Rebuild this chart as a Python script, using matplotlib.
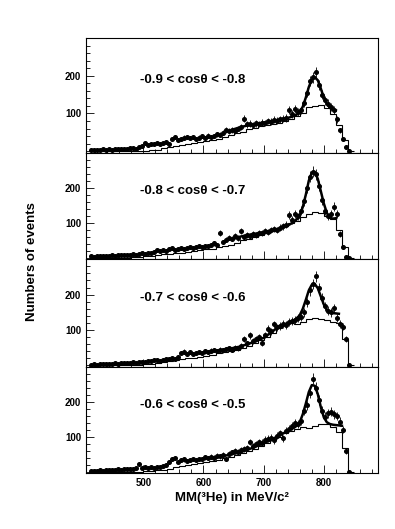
import numpy as np
import matplotlib

matplotlib.use("Agg")
import matplotlib.pyplot as plt
from matplotlib.ticker import FixedLocator, MultipleLocator

plt.rcParams["font.family"] = ["Liberation Sans", "DejaVu Sans"]

# angular bins (panel labels)
labels = ["-0.9 < cosθ < -0.8", "-0.8 < cosθ < -0.7",
          "-0.7 < cosθ < -0.6", "-0.6 < cosθ < -0.5"]

# measured counts, 5 MeV bins starting at 410 MeV
data_1 = [3, 2, 4, 3, 5, 4, 5, 4, 6, 5, 6, 7, 6, 8, 9, 7, 11, 13, 21, 16,
          20, 19, 22, 18, 21, 24, 20, 33, 38, 29, 32, 36, 38, 35, 37, 33, 36, 40, 34, 41,
          38, 40, 45, 43, 49, 56, 54, 57, 53, 60, 64, 86, 71, 73, 70, 74, 72, 76, 75, 80,
          78, 83, 81, 85, 86, 88, 110, 98, 112, 104, 108, 128, 155, 186, 196, 209, 175, 150, 135, 126,
          118, 109, 85, 55, 32, 12, 0]
data_2 = [4, 3, 5, 4, 6, 5, 5, 7, 6, 8, 7, 8, 9, 8, 10, 9, 11, 13, 12, 15,
          14, 17, 21, 19, 23, 20, 25, 27, 22, 26, 28, 25, 29, 31, 28, 32, 34, 31, 35, 33,
          37, 41, 36, 72, 45, 52, 58, 55, 62, 57, 76, 60, 66, 62, 68, 65, 72, 70, 76, 74,
          80, 82, 79, 86, 90, 95, 122, 108, 125, 118, 135, 162, 198, 232, 246, 238, 205, 165, 135, 118,
          126, 146, 124, 67, 32, 3, 0]
data_3 = [2, 3, 2, 4, 3, 5, 4, 5, 6, 5, 7, 6, 8, 7, 9, 8, 10, 9, 11, 13,
          12, 14, 15, 13, 16, 18, 17, 21, 19, 24, 36, 39, 33, 38, 32, 35, 38, 36, 40, 38,
          42, 44, 41, 45, 43, 46, 48, 45, 50, 48, 55, 75, 62, 85, 70, 74, 80, 64, 86, 103,
          96, 116, 108, 112, 118, 115, 122, 125, 128, 135, 138, 150, 178, 212, 230, 252, 218, 190, 167, 155,
          150, 162, 135, 118, 110, 75, 0]
data_4 = [3, 4, 3, 5, 4, 6, 5, 7, 6, 8, 7, 8, 9, 10, 8, 11, 23, 12, 14, 11,
          13, 12, 15, 14, 16, 20, 28, 38, 40, 30, 34, 36, 32, 35, 37, 33, 38, 36, 42, 40,
          44, 41, 47, 45, 50, 38, 52, 56, 60, 58, 63, 66, 70, 85, 74, 80, 86, 84, 92, 95,
          98, 90, 104, 110, 96, 118, 124, 130, 140, 136, 145, 175, 190, 225, 266, 240, 205, 175, 158, 168,
          172, 165, 160, 144, 121, 60, 0]
data_counts = [data_1, data_2, data_3, data_4]

# simulated background histogram, 10 MeV bins starting at 410 MeV
sim_1 = [0, 0, 0, 0, 0, 0, 0, 0, 0, 1, 2, 4, 8, 11, 14, 16, 18, 21, 24, 27,
         30, 33, 38, 42, 47, 52, 58, 62, 66, 70, 72, 76, 80, 86, 92, 102, 116, 121, 122, 115,
         98, 70, 30, 0]
sim_2 = [0, 0, 0, 0, 0, 0, 1, 2, 3, 4, 6, 8, 10, 11, 13, 15, 17, 19, 21, 24,
         26, 30, 33, 37, 42, 50, 54, 60, 66, 72, 78, 84, 92, 100, 104, 116, 126, 130, 128, 118,
         112, 80, 30, 0]
sim_3 = [0, 0, 0, 0, 0, 0, 0, 1, 2, 3, 5, 8, 10, 12, 15, 18, 20, 22, 25, 27,
         30, 34, 37, 40, 44, 50, 56, 64, 72, 80, 92, 105, 118, 120, 117, 122, 130, 134, 132, 128,
         124, 120, 75, 0]
sim_4 = [0, 0, 0, 0, 0, 0, 0, 0, 1, 2, 3, 5, 7, 10, 13, 16, 19, 22, 25, 28,
         31, 35, 39, 43, 48, 54, 60, 67, 75, 84, 92, 100, 110, 118, 124, 128, 127, 132, 138, 136,
         128, 115, 70, 0]
sim_counts = [sim_1, sim_2, sim_3, sim_4]

# fitted curves (signal + background)
fit_x_1 = [650, 660, 670, 680, 690, 700, 710, 720, 730, 740, 750, 755, 760, 765, 770,
           775, 780, 785, 790, 795, 800, 805, 810, 815, 820]
fit_y_1 = [58, 63, 67, 70, 73, 76, 79, 82, 85, 88, 93, 97, 104, 118, 142,
           170, 190, 196, 188, 166, 142, 126, 116, 110, 108]
fit_x_2 = [650, 660, 670, 680, 690, 700, 710, 720, 730, 740, 750, 755, 760, 765, 770,
           775, 780, 785, 790, 795, 800, 805, 810, 815, 820]
fit_y_2 = [55, 60, 64, 67, 70, 73, 77, 81, 86, 92, 102, 110, 122, 145, 180,
           220, 243, 245, 225, 190, 155, 128, 114, 112, 113]
fit_x_3 = [600, 620, 640, 660, 680, 700, 710, 720, 730, 740, 750, 755, 760, 765, 770,
           775, 780, 785, 790, 795, 800, 805, 810, 815, 820, 825]
fit_y_3 = [36, 41, 46, 53, 64, 78, 90, 103, 113, 120, 127, 133, 142, 160, 185,
           212, 228, 230, 218, 195, 172, 158, 150, 148, 147, 146]
fit_x_4 = [600, 620, 640, 660, 680, 700, 710, 720, 730, 740, 750, 755, 760, 765, 770,
           775, 780, 785, 790, 795, 800, 805, 810, 815, 820, 825, 830]
fit_y_4 = [38, 43, 48, 56, 68, 82, 90, 99, 108, 117, 126, 132, 142, 165, 195,
           228, 248, 246, 222, 185, 156, 142, 137, 135, 134, 133, 132]
fit_x = [fit_x_1, fit_x_2, fit_x_3, fit_x_4]
fit_y = [fit_y_1, fit_y_2, fit_y_3, fit_y_4]

xticks = [500, 600, 700, 800]
yticks = [100, 200]


def _panel(ax, data, sim, fx, fy, label, bottom):
    data = np.asarray(data, dtype=float)
    centers = 412.5 + 5 * np.arange(len(data))
    ax.errorbar(centers, data, yerr=np.sqrt(data), fmt="o", color="black",
                markersize=2.6, elinewidth=0.6, capsize=0)
    sim = np.asarray(sim, dtype=float)
    edges = 410 + 10 * np.arange(len(sim) + 1)
    ax.stairs(sim, edges, color="black", linewidth=0.8)
    ax.plot(fx, fy, color="black", linewidth=1.8)

    ax.text(494, 190, label, fontsize=9.5, fontweight="bold", va="center")
    ax.set_xlim(405, 890)
    ax.set_ylim(-4, 300)
    ax.yaxis.set_major_locator(FixedLocator(yticks))
    ax.yaxis.set_minor_locator(MultipleLocator(20))
    ax.xaxis.set_major_locator(FixedLocator(xticks))
    ax.xaxis.set_minor_locator(MultipleLocator(20))
    ax.tick_params(which="both", direction="in", top=False, right=False,
                   labelsize=7, width=0.6)
    ax.tick_params(which="major", length=5.5)
    ax.tick_params(which="minor", length=3)
    for lab in ax.get_yticklabels() + ax.get_xticklabels():
        lab.set_fontweight("bold")
    if not bottom:
        ax.tick_params(axis="x", labelbottom=False)
    for sp in ax.spines.values():
        sp.set_linewidth(0.8)


fig, axes = plt.subplots(4, 1, figsize=(3.95, 5.29), dpi=100, sharex=True,
                         gridspec_kw={"height_ratios": [115, 107, 108, 107]})
fig.subplots_adjust(left=0.218, right=0.957, top=0.928, bottom=0.105, hspace=0)

for i, ax in enumerate(axes):
    _panel(ax, data_counts[i], sim_counts[i], fit_x[i], fit_y[i], labels[i], i == 3)

fig.text(0.081, 0.505, "Numbers of events", rotation=90, ha="center", va="center",
         fontsize=9.5, fontweight="bold")
fig.text(0.587, 0.059, "MM(³He) in MeV/c²", ha="center", va="center",
         fontsize=9.5, fontweight="bold")

fig.savefig("out.png", dpi=100)
plt.close(fig)
